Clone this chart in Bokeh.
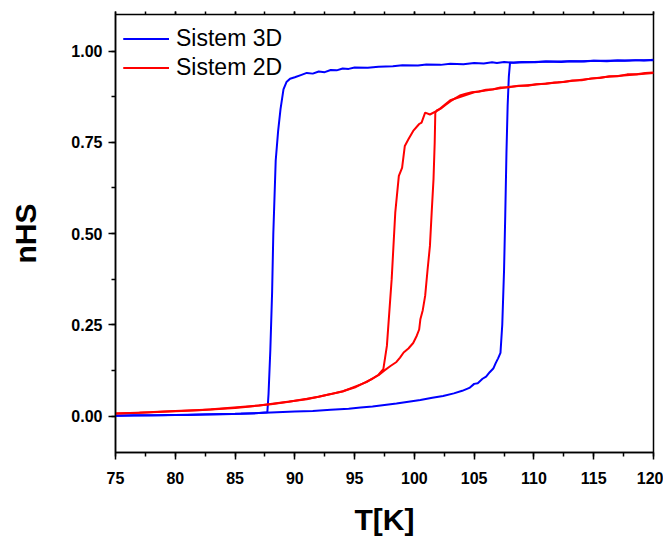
from bokeh.plotting import figure
from bokeh.models import (Range1d, SingleIntervalTicker, LinearAxis, NumeralTickFormatter,
                          Legend, LegendItem, CustomJSTickFormatter)
from bokeh.embed import file_html
from bokeh.resources import INLINE

# ---- data ----
# Sistem 3D, heating branch
t3_heat = [75.0, 76.5, 78.0, 79.5, 81.0, 82.5, 84.0, 85.5, 87.0, 88.5, 90.0, 91.5, 93.0, 94.5,
           95.5, 96.5, 97.5, 98.5, 99.5, 100.5, 101.5, 102.4, 103.3, 104.0, 104.6, 105.0, 105.3,
           105.7, 106.0, 106.3, 106.6, 106.8, 107.0, 107.2, 107.35, 107.5, 107.6, 107.7, 107.8,
           107.9, 108.0, 109.0, 110.0, 111.0, 112.0, 113.0, 114.0, 115.0, 116.0, 117.0, 118.0,
           119.0, 120.0]
n3_heat = [0.001, 0.002, 0.002, 0.003, 0.003, 0.004, 0.005, 0.006, 0.008, 0.010, 0.012, 0.014,
           0.017, 0.020, 0.023, 0.026, 0.030, 0.034, 0.039, 0.044, 0.050, 0.055, 0.062, 0.069,
           0.077, 0.088, 0.090, 0.102, 0.108, 0.120, 0.130, 0.145, 0.158, 0.173, 0.25, 0.40,
           0.55, 0.72, 0.85, 0.93, 0.968, 0.969, 0.970, 0.971, 0.971, 0.972, 0.972, 0.973,
           0.973, 0.974, 0.974, 0.975, 0.975]
# Sistem 3D, cooling branch
t3_cool = [120.0, 119.2, 118.5, 117.6, 117.0, 116.1, 115.0, 114.2, 113.0, 112.3, 111.0, 110.1,
           109.0, 108.3, 107.5, 106.9, 106.5, 105.8, 105.0, 104.1, 103.0, 102.2, 101.0, 100.3,
           99.0, 98.2, 97.0, 96.1, 95.0, 94.5, 94.0, 93.5, 93.0, 92.5, 92.0, 91.5, 91.0, 90.5,
           90.0, 89.6, 89.3, 89.05, 88.8, 88.6, 88.4, 88.2, 88.1, 87.95, 87.8, 87.7, 87.0, 85.0,
           82.0, 79.0, 75.0]
n3_cool = [0.976, 0.974, 0.975, 0.973, 0.974, 0.972, 0.973, 0.971, 0.972, 0.970, 0.971, 0.969,
           0.970, 0.968, 0.970, 0.967, 0.969, 0.966, 0.967, 0.964, 0.965, 0.962, 0.963, 0.960,
           0.961, 0.958, 0.957, 0.954, 0.955, 0.951, 0.952, 0.947, 0.948, 0.942, 0.944, 0.938,
           0.940, 0.934, 0.928, 0.924, 0.915, 0.895, 0.84, 0.78, 0.70, 0.50, 0.34, 0.18, 0.06,
           0.010, 0.008, 0.006, 0.004, 0.002, 0.001]

# Sistem 2D, heating branch
t2_heat = [75.0, 77.0, 79.0, 81.0, 83.0, 85.0, 86.5, 88.0, 89.5, 91.0, 92.0, 93.0, 94.0, 95.0,
           95.5, 96.0, 96.5, 97.0, 97.5, 98.0, 98.5, 98.8, 99.1, 99.5, 99.9, 100.2, 100.4, 100.5,
           100.7, 100.9, 101.1, 101.3, 101.45, 101.6, 101.7, 101.75, 101.9, 102.2, 102.6, 103.0,
           103.4, 103.8, 104.3, 104.8, 105.4, 106.0, 106.6, 107.2, 108.0, 108.7, 109.5, 110.2,
           111.0, 111.7, 112.5, 113.2, 114.0, 114.8, 115.5, 116.3, 117.0, 117.8, 118.6, 119.3,
           120.0]
n2_heat = [0.007, 0.009, 0.012, 0.015, 0.018, 0.022, 0.027, 0.032, 0.039, 0.047, 0.053, 0.060,
           0.068, 0.078, 0.086, 0.094, 0.102, 0.112, 0.125, 0.137, 0.148, 0.160, 0.174, 0.185,
           0.200, 0.220, 0.237, 0.265, 0.290, 0.329, 0.40, 0.466, 0.56, 0.649, 0.75, 0.831,
           0.838, 0.842, 0.852, 0.862, 0.870, 0.878, 0.883, 0.887, 0.889, 0.894, 0.895, 0.900,
           0.901, 0.905, 0.905, 0.909, 0.910, 0.914, 0.915, 0.919, 0.920, 0.925, 0.926, 0.931,
           0.931, 0.936, 0.936, 0.940, 0.941]
# Sistem 2D, cooling branch
t2_cool = [120.0, 116.0, 112.0, 108.0, 105.0, 103.0, 102.0, 101.3, 100.9, 100.6, 100.4, 99.9,
           99.5, 99.2, 98.97, 98.7, 98.4, 98.1, 97.7, 97.4, 97.0, 96.0, 94.0, 91.0, 87.0, 82.0,
           78.0, 75.0]
n2_cool = [0.940, 0.929, 0.914, 0.902, 0.887, 0.865, 0.838, 0.826, 0.831, 0.804, 0.800, 0.781,
           0.758, 0.740, 0.680, 0.658, 0.557, 0.375, 0.192, 0.128, 0.113, 0.093, 0.067, 0.046,
           0.029, 0.016, 0.010, 0.007]

series_names = ["Sistem 3D", "Sistem 2D"]
x_label = "T[K]"
y_label = "nHS"

BLUE = "#0000ff"
RED = "#ff0000"
FONT = "Liberation Sans"
FW, FH = 538, 438

p = figure(output_backend="svg", toolbar_location=None,
           frame_width=FW, frame_height=FH,
           min_border_left=115, min_border_right=10, min_border_top=14, min_border_bottom=82,
           x_range=Range1d(75, 120), y_range=Range1d(-0.1, 1.1),
           background_fill_color="white", border_fill_color="white")
p.xaxis.visible = False
p.yaxis.visible = False
p.xgrid.visible = False
p.ygrid.visible = False
p.outline_line_color = "black"
p.outline_line_width = 1.5

xt = SingleIntervalTicker(interval=5, num_minor_ticks=2)
yt = SingleIntervalTicker(interval=0.25, num_minor_ticks=2)

xa = LinearAxis(ticker=xt, axis_label=x_label)
ya = LinearAxis(ticker=yt, axis_label=y_label, formatter=NumeralTickFormatter(format="0.00"))
for ax in (xa, ya):
    ax.axis_line_width = 1.5
    ax.major_tick_line_width = 1.5
    ax.minor_tick_line_width = 1.5
    ax.major_tick_in = 0
    ax.major_tick_out = 7
    ax.minor_tick_in = 0
    ax.minor_tick_out = 4
    ax.major_label_text_font = FONT
    ax.major_label_text_font_style = "bold"
    ax.major_label_text_font_size = "16px"
    ax.major_label_text_color = "black"
    ax.axis_label_text_font = FONT
    ax.axis_label_text_font_style = "bold"
    ax.axis_label_text_font_size = "30px"
    ax.axis_label_text_color = "black"
xa.major_label_standoff = 12
xa.axis_label_standoff = 16
ya.major_label_standoff = 6
ya.axis_label_standoff = 26
p.add_layout(xa, "below")
p.add_layout(ya, "left")

ta = LinearAxis(ticker=xt, formatter=CustomJSTickFormatter(code="return ''"),
                axis_line_color=None,
                major_tick_in=0, major_tick_out=3, minor_tick_in=0, minor_tick_out=3,
                major_tick_line_width=1.5, minor_tick_line_width=1.5,
                major_label_standoff=0, axis_label=None)
p.add_layout(ta, "above")

r1a = p.line(t3_heat, n3_heat, line_color=BLUE, line_width=2)
r1b = p.line(t3_cool, n3_cool, line_color=BLUE, line_width=2)
r2a = p.line(t2_heat, n2_heat, line_color=RED, line_width=2)
r2b = p.line(t2_cool, n2_cool, line_color=RED, line_width=2)

legend = Legend(items=[LegendItem(label=series_names[0], renderers=[r1a, r1b]),
                       LegendItem(label=series_names[1], renderers=[r2a, r2b])],
                location=(8, FH - 68), padding=4, margin=0, spacing=0,
                glyph_width=46, glyph_height=29, label_height=29, label_standoff=7,
                label_text_font=FONT, label_text_font_size="23px", label_text_color="black",
                border_line_color=None, background_fill_alpha=0)
p.add_layout(legend, "center")

open("out.html", "w").write(file_html(p, INLINE))
